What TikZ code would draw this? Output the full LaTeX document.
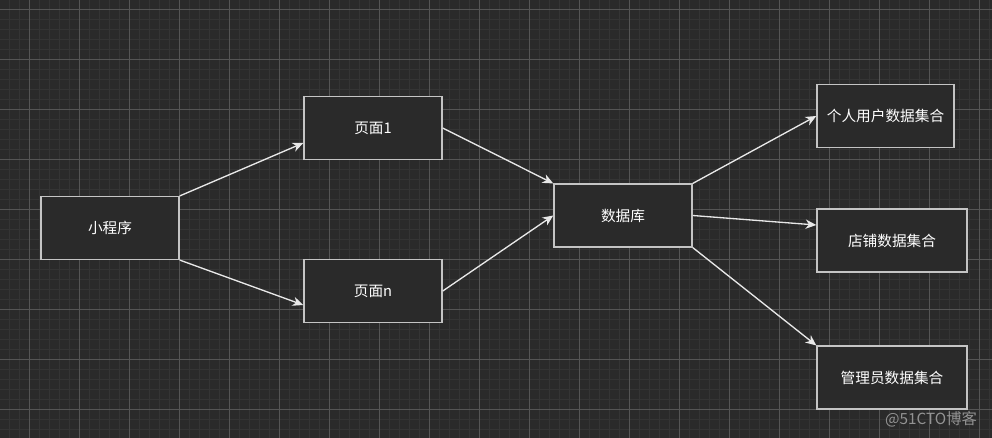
\documentclass[tikz,border=0pt]{standalone}
\usepackage{fontspec}
\setmainfont{Noto Sans CJK SC}
\usepackage{tikz}
\usetikzlibrary{calc,arrows.meta}

\definecolor{bg}{HTML}{2A2A2A}
\definecolor{gridminor}{HTML}{343434}
\definecolor{gridmajor}{HTML}{555555}
\definecolor{edge}{HTML}{C4C4C4}
\definecolor{wire}{HTML}{E8E8E8}

\begin{document}
\begin{tikzpicture}[
  x=0.75pt, y=-0.75pt,
  font=\fontsize{11}{13}\selectfont,
  box/.style={draw=edge, fill=bg, line width=1.1pt, text=white, inner sep=0pt,
    minimum width=103.5pt, minimum height=47pt},
  wide/.style={box, minimum width=112.5pt},
  arr/.style={-{Stealth[length=8pt, width=7pt, inset=2.5pt]}, draw=wire, line width=1pt}]
% canvas and grid
\useasboundingbox[fill=bg] (0,0) rectangle (992,438);
\foreach \x in {1,...,99} \draw[gridminor, line width=0.6pt] (\x*10-0.7,0) -- (\x*10-0.7,438);
\foreach \y in {1,...,44} \draw[gridminor, line width=0.6pt] (0,\y*10-0.7) -- (992,\y*10-0.7);
\foreach \x in {0,...,19} \draw[gridmajor, line width=0.6pt] (\x*50+29.3,0) -- (\x*50+29.3,438);
\foreach \y in {0,...,8} \draw[gridmajor, line width=0.6pt] (0,\y*50+9.3) -- (992,\y*50+9.3);

% nodes
\node[box] (app) at (110,228) {小程序};
\node[box] (p1) at (373,128) {页面1};
\node[box] (pn) at (373,291) {页面n};
\node[box] (db) at (623,215.5) {数据库};
\node[box, minimum width=102.75pt] (user) at (885.5,116) {个人用户数据集合};
\node[wide] (shop) at (892,240.5) {店铺数据集合};
\node[wide] (admin) at (892,377.5) {管理员数据集合};
\node[text=gray!85, font=\fontsize{11.5}{13}\selectfont] (mark) at (931,419) {@51CTO博客};

% connectors
\coordinate (p1in) at ($(p1.west)+(0,15)$);
\coordinate (pnin) at ($(pn.west)+(0,14)$);
\coordinate (shopin) at ($(shop.west)+(0,-15.5)$);
\foreach \a/\b in {app.north east/p1in, app.south east/pnin, p1.east/db.north west, pn.east/db.west,
  db.north east/user.west, db.east/shopin, db.south east/admin.north west} \draw[arr] (\a) -- (\b);
\end{tikzpicture}
\end{document}
